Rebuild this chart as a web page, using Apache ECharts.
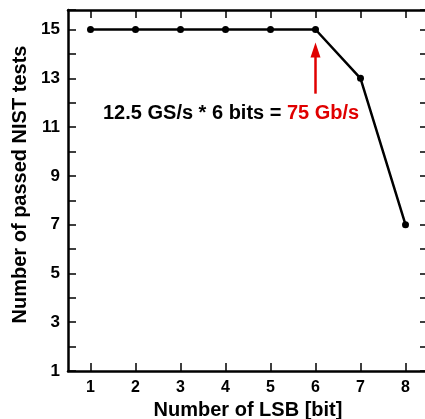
<!DOCTYPE html>
<html>
<head>
<meta charset="utf-8">
<script src="https://cdn.jsdelivr.net/npm/echarts@6/dist/echarts.min.js"></script>
<style>
  html, body { margin: 0; padding: 0; background: #fff; }
  #chart { width: 425px; height: 419px; }
</style>
</head>
<body>
<div id="chart"></div>
<script>
// LSB count vs passed NIST tests
const lsbBits = ['1', '2', '3', '4', '5', '6', '7', '8'];
const passedTests = [15, 15, 15, 15, 15, 15, 13, 7];
// arrow under the 6-bit point (category, value)
const arrowFrom = ['6', 12.37];
const arrowTo = ['6', 14.16];

const font = 'Liberation Sans, Arial, sans-serif';

const chart = echarts.init(document.getElementById('chart'));

const xBase = {
  type: 'category',
  data: lsbBits,
  boundaryGap: true,
  splitLine: { show: false },
  axisLine: { show: true, onZero: false, lineStyle: { color: '#000', width: 2.5 } },
  axisTick: { show: true, inside: true, alignWithLabel: true, length: 8, lineStyle: { color: '#000', width: 1.5 } },
};
const yBase = {
  type: 'value',
  min: 1,
  max: 15.8,
  interval: 1,
  splitLine: { show: false },
  axisLine: { show: true, onZero: false, lineStyle: { color: '#000', width: 2.5 } },
  axisTick: { show: true, inside: true, length: 8, lineStyle: { color: '#000', width: 1.5 } },
};

chart.setOption({
  animation: false,
  backgroundColor: '#fff',
  grid: { left: 68, width: 360, top: 10, bottom: 48, outerBoundsMode: 'none', containLabel: false },
  xAxis: [
    {
      ...xBase,
      position: 'bottom',
      name: 'Number of LSB [bit]',
      nameLocation: 'middle',
      nameGap: 27,
      nameTextStyle: { fontFamily: font, fontWeight: 'bold', fontSize: 20, color: '#000' },
      axisLabel: { margin: 9, fontFamily: font, fontWeight: 'bold', fontSize: 16, color: '#000' }
    },
    { ...xBase, position: 'top', axisLabel: { show: false } }
  ],
  yAxis: [
    {
      ...yBase,
      position: 'left',
      name: 'Number of passed NIST tests',
      nameLocation: 'middle',
      nameGap: 30,
      nameTextStyle: { fontFamily: font, fontWeight: 'bold', fontSize: 20, color: '#000', padding: [0, 0, 0, 12] },
      axisLabel: {
        margin: 8, fontFamily: font, fontWeight: 'bold', fontSize: 17, color: '#000',
        formatter: v => (Number.isInteger(v) && v % 2 === 1 ? String(v) : '')
      }
    },
    { ...yBase, position: 'right', axisLabel: { show: false } }
  ],
  series: [
    {
      type: 'line',
      data: passedTests,
      symbol: 'circle',
      symbolSize: 7,
      lineStyle: { color: '#000', width: 2.5 },
      itemStyle: { color: '#000' },
      markLine: {
        silent: true,
        symbol: ['none', 'triangle'],
        symbolSize: [10, 15],
        label: { show: false },
        lineStyle: { color: '#e00000', width: 2.5, type: 'solid' },
        data: [[{ coord: arrowFrom }, { coord: arrowTo }]]
      }
    }
  ],
  graphic: [
    {
      type: 'text',
      left: 103,
      top: 103,
      style: {
        text: '{k|12.5 GS/s * 6 bits = }{r|75 Gb/s}',
        rich: {
          k: { fontFamily: font, fontWeight: 'bold', fontSize: 20, fill: '#000' },
          r: { fontFamily: font, fontWeight: 'bold', fontSize: 20, fill: '#e00000' }
        }
      }
    }
  ]
});
</script>
</body>
</html>
